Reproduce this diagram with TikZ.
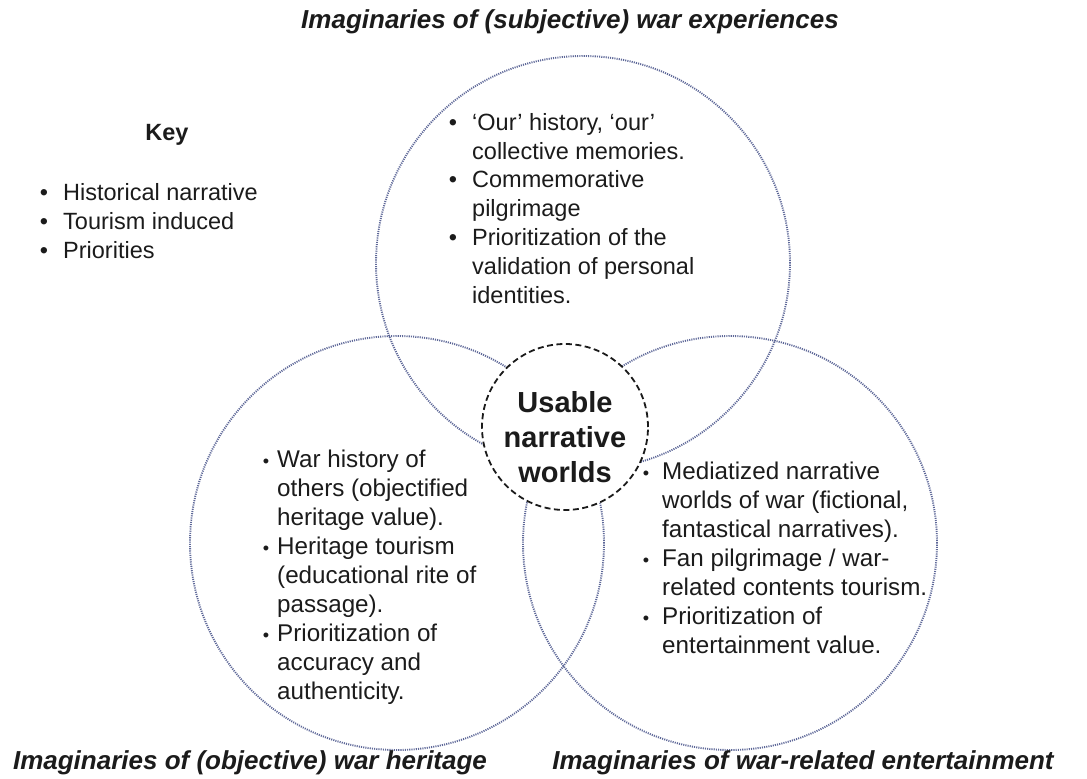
\documentclass[tikz,border=0pt]{standalone}
\usepackage{fontspec}
\setmainfont{Liberation Sans}
\usepackage{graphicx}
\usetikzlibrary{positioning}
\definecolor{ringblue}{HTML}{5E6898}
\definecolor{inkdark}{HTML}{1B1B1B}

% bullets hung into the left margin of a line
\newcommand{\bigdot}{\llap{\textbullet\hspace{15pt}}}
\newcommand{\smalldot}[1]{\llap{\scalebox{0.75}{\textbullet}\hspace{#1}}}

\begin{document}
\begin{tikzpicture}[x=1pt, y=-1pt,
  ring/.style={circle, draw=ringblue, line width=1.9pt, dash pattern=on 1.1pt off 1.1pt, minimum size=414pt, inner sep=0pt},
  hub/.style={circle, draw=inkdark, fill=white, line width=1.8pt, dash pattern=on 6pt off 3.5pt, minimum size=166pt, inner sep=0pt},
  hublabel/.style={align=center, inner sep=0pt, text=inkdark, font=\fontsize{29}{35}\selectfont\bfseries},
  heading/.style={inner sep=0pt, text=inkdark, font=\fontsize{26}{30}\selectfont\bfseries\itshape},
  listtext/.style={anchor=base west, align=left, inner sep=0pt, text=inkdark, font=\fontsize{23.5}{28.8}\selectfont},
  lowtext/.style={listtext, font=\fontsize{24.2}{29}\selectfont}]
  \useasboundingbox (0,0) rectangle (1087,779);

  % Three imaginaries
  \node[ring] (subjective) at (583,263) {};
  \node[ring] (objective) at (397,543) {};
  \node[ring] (entertain) at (730,543) {};

  % Overlap in the middle
  \node[hub] (hub) at (565,427) {};
  \node[hublabel] (hubtext) at (565,437) {Usable\\narrative\\worlds};

  % Titles
  \node[heading] (toptitle) at (570,22) {Imaginaries of (subjective) war experiences};
  \node[heading] (lefttitle) at (250,763) {Imaginaries of (objective) war heritage};
  \node[heading] (righttitle) at (803,763) {Imaginaries of war-related entertainment};

  % Key (lists are placed by the baseline of their last line)
  \node[inner sep=0pt, text=inkdark, font=\fontsize{23.5}{28.8}\selectfont\bfseries] (keytitle) at (167,135) {Key};
  \node[listtext] (keylist) at (63,258) {\bigdot Historical narrative\\
    \bigdot Tourism induced\\
    \bigdot Priorities};

  % Contents of each circle
  \node[listtext] (toplist) at (472,303) {\bigdot `Our' history, `our'\\
    collective memories.\\
    \bigdot Commemorative\\
    pilgrimage\\
    \bigdot Prioritization of the\\
    validation of personal\\
    identities.};
  \node[lowtext] (leftlist) at (277,699) {\smalldot{8pt}War history of\\
    others (objectified\\
    heritage value).\\
    \smalldot{8pt}Heritage tourism\\
    (educational rite of\\
    passage).\\
    \smalldot{8pt}Prioritization of\\
    accuracy and\\
    authenticity.};
  \node[lowtext] (rightlist) at (662,653) {\smalldot{13pt}Mediatized narrative\\
    worlds of war (fictional,\\
    fantastical narratives).\\
    \smalldot{13pt}Fan pilgrimage / war-\\
    related contents tourism.\\
    \smalldot{13pt}Prioritization of\\
    entertainment value.};
\end{tikzpicture}
\end{document}
